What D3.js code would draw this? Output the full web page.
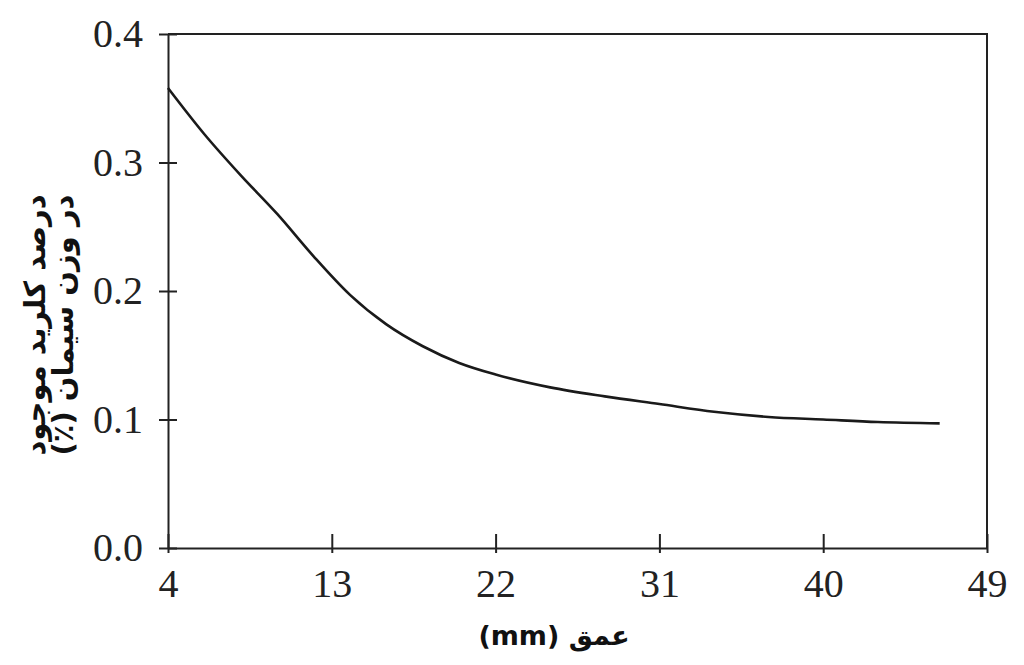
<!DOCTYPE html>
<html lang="fa">
<head>
<meta charset="UTF-8">
<title>Chloride profile</title>
<script src="https://cdnjs.cloudflare.com/ajax/libs/d3/7.8.5/d3.min.js"></script>
<style>
  body { margin: 0; background: #fff; }
  .tick text { font-family: "Liberation Serif", "DejaVu Serif", serif; fill: #222; }
  .title { font-family: "DejaVu Sans", sans-serif; font-weight: bold; fill: #111; }
</style>
</head>
<body>
<div id="chart"></div>
<script>
// depth (mm) and chloride content (% of cement weight)
const depth    = [4, 6, 8, 10, 12, 14, 16, 18, 20, 22, 25, 28, 31, 34, 37, 40, 43, 46.4];
const chloride = [0.358, 0.322, 0.290, 0.260, 0.227, 0.197, 0.174, 0.157, 0.144, 0.135, 0.125, 0.118, 0.112, 0.106, 0.102, 0.100, 0.098, 0.097];
const xTicks = [4, 13, 22, 31, 40, 49];
const yTicks = [0, 0.1, 0.2, 0.3, 0.4];
const xTitle = "عمق (mm)";
const yTitle = ["درصد کلرید موجود", "در وزن سیمان (٪)"];

const width = 1024, height = 665;
const margin = {top: 34, right: 37, bottom: 117, left: 168};

const svg = d3.select("#chart").append("svg")
  .attr("width", width).attr("height", height);

const x = d3.scaleLinear().domain([4, 49]).range([margin.left, width - margin.right]);
const y = d3.scaleLinear().domain([0, 0.4]).range([height - margin.bottom, margin.top]);

// frame (top and right)
svg.append("path")
  .attr("d", `M${x(4)},${y(0.4)}H${x(49)}V${y(0)}`)
  .attr("fill", "none").attr("stroke", "#222").attr("stroke-width", 2);

const xAxis = svg.append("g")
  .attr("transform", `translate(0,${y(0)})`)
  .call(d3.axisBottom(x).tickValues(xTicks).tickFormat(d3.format("d")).tickSizeOuter(0));
xAxis.selectAll(".tick line").attr("y1", -14).attr("y2", 5);
xAxis.selectAll(".tick text").attr("y", 21).attr("font-size", 40);

const yAxis = svg.append("g")
  .attr("transform", `translate(${x(4)},0)`)
  .call(d3.axisLeft(y).tickValues(yTicks).tickFormat(d3.format(".1f")).tickSizeOuter(0));
yAxis.selectAll(".tick line").attr("x1", -9).attr("x2", 9);
yAxis.selectAll(".tick text").attr("x", -25).attr("font-size", 40);

svg.selectAll(".domain").attr("stroke", "#222").attr("stroke-width", 2);
svg.selectAll(".tick line").attr("stroke", "#222").attr("stroke-width", 2);

const line = d3.line()
  .x((d, i) => x(depth[i]))
  .y(d => y(d))
  .curve(d3.curveMonotoneX);

svg.append("path")
  .datum(chloride)
  .attr("d", line)
  .attr("fill", "none")
  .attr("stroke", "#1a1a1a")
  .attr("stroke-width", 2.6);

// axis titles
svg.append("text").attr("class", "title")
  .attr("x", 554).attr("y", 645)
  .attr("text-anchor", "middle")
  .attr("direction", "rtl")
  .attr("font-size", 27)
  .text(xTitle);

const yt = svg.append("g")
  .attr("transform", `translate(0,${(y(0) + y(0.4)) / 2 + 34}) rotate(-90)`);
yTitle.forEach((t, i) => {
  yt.append("text").attr("class", "title")
    .attr("x", 0).attr("y", 45 + i * 28)
    .attr("text-anchor", "middle")
    .attr("direction", "rtl")
    .attr("font-size", 29)
    .text(t);
});
</script>
</body>
</html>
